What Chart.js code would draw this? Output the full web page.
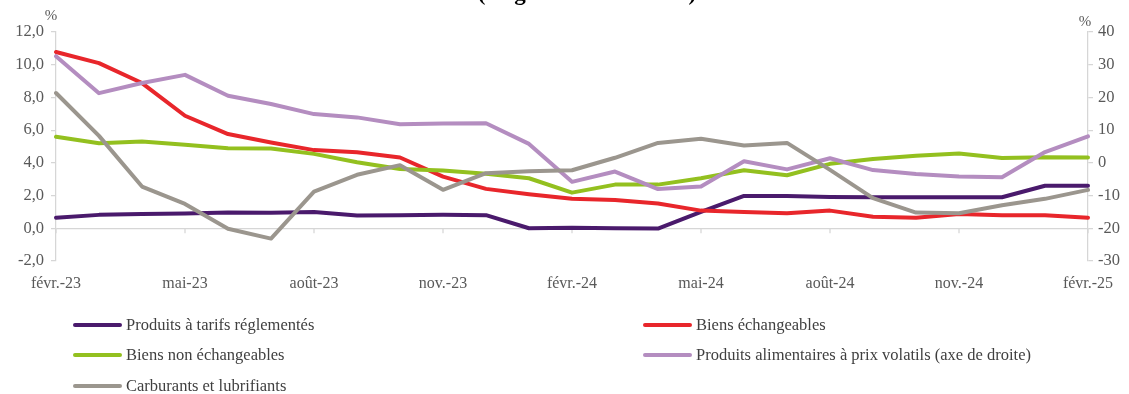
<!DOCTYPE html>
<html lang="fr">
<head>
<meta charset="utf-8">
<title>Inflation par composante</title>
<script src="https://cdn.jsdelivr.net/npm/chart.js@4/dist/chart.umd.min.js"></script>
<style>
  html, body { margin: 0; padding: 0; background: #ffffff; overflow: hidden; }
  #wrap { position: relative; width: 1129px; height: 394px; }
  #chart { position: absolute; left: 0; top: 0; }
  .legend-item { position: absolute; height: 20px; display: flex; align-items: center;
    font-family: "Liberation Serif", "DejaVu Serif", serif; font-size: 16.5px; color: #3f3f3f; white-space: nowrap; }
  .legend-item .swatch { width: 49px; height: 4px; border-radius: 2px; margin-right: 4px; }
</style>
</head>
<body>
<div id="wrap">
  <canvas id="chart" width="1129" height="394"></canvas>
  <div id="legend"></div>
</div>
<script>
// Mois (glissement annuel, février 2023 à février 2025)
const months = [
  "févr.-23", "mars-23", "avr.-23", "mai-23", "juin-23", "juil.-23", "août-23", "sept.-23", "oct.-23",
  "nov.-23", "déc.-23", "janv.-24", "févr.-24", "mars-24", "avr.-24", "mai-24", "juin-24", "juil.-24",
  "août-24", "sept.-24", "oct.-24", "nov.-24", "déc.-24", "janv.-25", "févr.-25"
];

// Axe de gauche (%)
const tarifsReglementes = [0.65, 0.82, 0.88, 0.90, 0.97, 0.95, 1.00, 0.78, 0.80, 0.82, 0.80, 0.00, 0.04,
  0.00, -0.02, 1.00, 1.98, 1.98, 1.92, 1.90, 1.90, 1.90, 1.90, 2.60, 2.60];
const biensEchangeables = [10.78, 10.10, 8.88, 6.88, 5.76, 5.24, 4.78, 4.65, 4.33, 3.16, 2.41, 2.08, 1.80,
  1.73, 1.51, 1.08, 1.00, 0.92, 1.08, 0.71, 0.65, 0.88, 0.80, 0.80, 0.65];
const biensNonEchangeables = [5.59, 5.20, 5.30, 5.10, 4.90, 4.88, 4.55, 4.04, 3.63, 3.53, 3.33, 3.06, 2.18,
  2.67, 2.67, 3.06, 3.55, 3.24, 3.94, 4.24, 4.43, 4.57, 4.30, 4.35, 4.33];
const carburants = [8.27, 5.65, 2.55, 1.49, -0.03, -0.63, 2.24, 3.27, 3.86, 2.35, 3.37, 3.49, 3.55,
  4.31, 5.22, 5.47, 5.06, 5.22, 3.57, 1.84, 0.96, 0.92, 1.41, 1.80, 2.35];

// Axe de droite (%)
const alimentairesVolatils = [32.6, 21.3, 24.4, 26.9, 20.5, 18.0, 14.9, 13.9, 11.8, 12.0, 12.1, 5.8, -5.8,
  -2.65, -8.0, -7.2, 0.5, -2.0, 1.4, -2.2, -3.4, -4.2, -4.4, 3.3, 8.1];

// Bornes des axes
const leftTicks = { min: -2, max: 12, step: 2 };
const rightTicks = { min: -30, max: 40, step: 10 };

const titleText = "(en glissement annuel)";

const seriesDefs = [
  { label: "Produits à tarifs réglementés", data: tarifsReglementes, color: "#4a1a6c", axis: "y", order: 5 },
  { label: "Biens échangeables", data: biensEchangeables, color: "#e8262b", axis: "y", order: 4 },
  { label: "Biens non échangeables", data: biensNonEchangeables, color: "#93c01f", axis: "y", order: 3 },
  { label: "Produits alimentaires à prix volatils (axe de droite)", data: alimentairesVolatils, color: "#b48dc0", axis: "y1", order: 2 },
  { label: "Carburants et lubrifiants", data: carburants, color: "#9b968e", axis: "y", order: 1 }
];

const FONT = "'Liberation Serif', 'DejaVu Serif', serif";
const AXIS_GREY = "#d6d6d6";
const TEXT_GREY = "#595959";

// Titre tronqué en haut, unités "%" et petites graduations de l'axe des abscisses sur la ligne zéro
const decorations = {
  id: "decorations",
  beforeDatasetsDraw(chart) {
    const { ctx, scales } = chart;
    const x = scales.x, y = scales.y;
    const y0 = y.getPixelForValue(0);
    ctx.save();
    ctx.strokeStyle = AXIS_GREY;
    ctx.lineWidth = 1.25;
    months.forEach((m, i) => {
      if (i % 3 !== 0) return;
      const px = x.getPixelForValue(i);
      ctx.beginPath();
      ctx.moveTo(px, y0);
      ctx.lineTo(px, y0 + 5);
      ctx.stroke();
    });
    ctx.restore();
  },
  afterDraw(chart) {
    const { ctx, chartArea } = chart;
    ctx.save();
    ctx.fillStyle = TEXT_GREY;
    ctx.font = "15px " + FONT;
    ctx.textAlign = "center";
    ctx.textBaseline = "alphabetic";
    ctx.fillText("%", chartArea.left - 5, chartArea.top - 12);
    ctx.fillText("%", chartArea.right - 3, chartArea.top - 6);
    ctx.fillStyle = "#000000";
    ctx.font = "bold 23px " + FONT;
    ctx.fillText(titleText, 587, 0);
    ctx.restore();
  }
};

const numberFr = v => v.toFixed(1).replace(".", ",");

const chart = new Chart(document.getElementById("chart"), {
  type: "line",
  data: {
    labels: months,
    datasets: seriesDefs.map(s => ({
      label: s.label,
      data: s.data,
      yAxisID: s.axis,
      order: s.order,
      borderColor: s.color,
      backgroundColor: s.color,
      borderWidth: 4,
      borderJoinStyle: "round",
      borderCapStyle: "round",
      pointRadius: 0,
      tension: 0,
      fill: false
    }))
  },
  options: {
    responsive: false,
    animation: false,
    devicePixelRatio: 1,
    layout: { padding: { left: 0, right: 0, top: 32, bottom: 93 } },
    plugins: {
      legend: { display: false },
      title: { display: false },
      tooltip: { enabled: false }
    },
    scales: {
      x: {
        offset: false,
        grid: { display: false, drawTicks: false },
        border: { display: false },
        ticks: {
          autoSkip: false,
          maxRotation: 0,
          padding: 13,
          color: TEXT_GREY,
          font: { family: FONT, size: 16 },
          callback(value, index) { return index % 3 === 0 ? this.getLabelForValue(value) : ""; }
        },
        afterFit(scale) { scale.height = 40; }
      },
      y: {
        position: "left",
        min: leftTicks.min,
        max: leftTicks.max,
        ticks: {
          stepSize: leftTicks.step,
          padding: 7,
          color: TEXT_GREY,
          font: { family: FONT, size: 16.5 },
          callback: v => numberFr(v)
        },
        grid: {
          drawOnChartArea: true,
          drawTicks: true,
          tickLength: 5,
          lineWidth: 1.25,
          tickColor: AXIS_GREY,
          color: ctx => (ctx.tick && ctx.tick.value === 0) ? AXIS_GREY : "rgba(0,0,0,0)"
        },
        border: { display: true, color: AXIS_GREY, width: 1.25 },
        afterFit(scale) { scale.width = 56; }
      },
      y1: {
        position: "right",
        min: rightTicks.min,
        max: rightTicks.max,
        ticks: {
          stepSize: rightTicks.step,
          padding: 5,
          color: TEXT_GREY,
          font: { family: FONT, size: 16.5 }
        },
        grid: {
          drawOnChartArea: false,
          drawTicks: true,
          tickLength: 5,
          lineWidth: 1.25,
          tickColor: AXIS_GREY,
          color: AXIS_GREY
        },
        border: { display: true, color: AXIS_GREY, width: 1.25 },
        afterFit(scale) { scale.width = 41; }
      }
    }
  },
  plugins: [decorations]
});

// Légende sur deux colonnes, construite à partir des séries du graphique
const legendSlots = [
  { left: 73, top: 315 }, { left: 643, top: 315 },
  { left: 73, top: 345 }, { left: 643, top: 345 },
  { left: 73, top: 376 }
];
const legendEl = document.getElementById("legend");
chart.data.datasets.forEach((ds, i) => {
  const item = document.createElement("div");
  item.className = "legend-item";
  item.style.left = legendSlots[i].left + "px";
  item.style.top = legendSlots[i].top + "px";
  const sw = document.createElement("span");
  sw.className = "swatch";
  sw.style.background = ds.borderColor;
  const txt = document.createElement("span");
  txt.textContent = ds.label;
  item.appendChild(sw);
  item.appendChild(txt);
  legendEl.appendChild(item);
});
</script>
</body>
</html>
